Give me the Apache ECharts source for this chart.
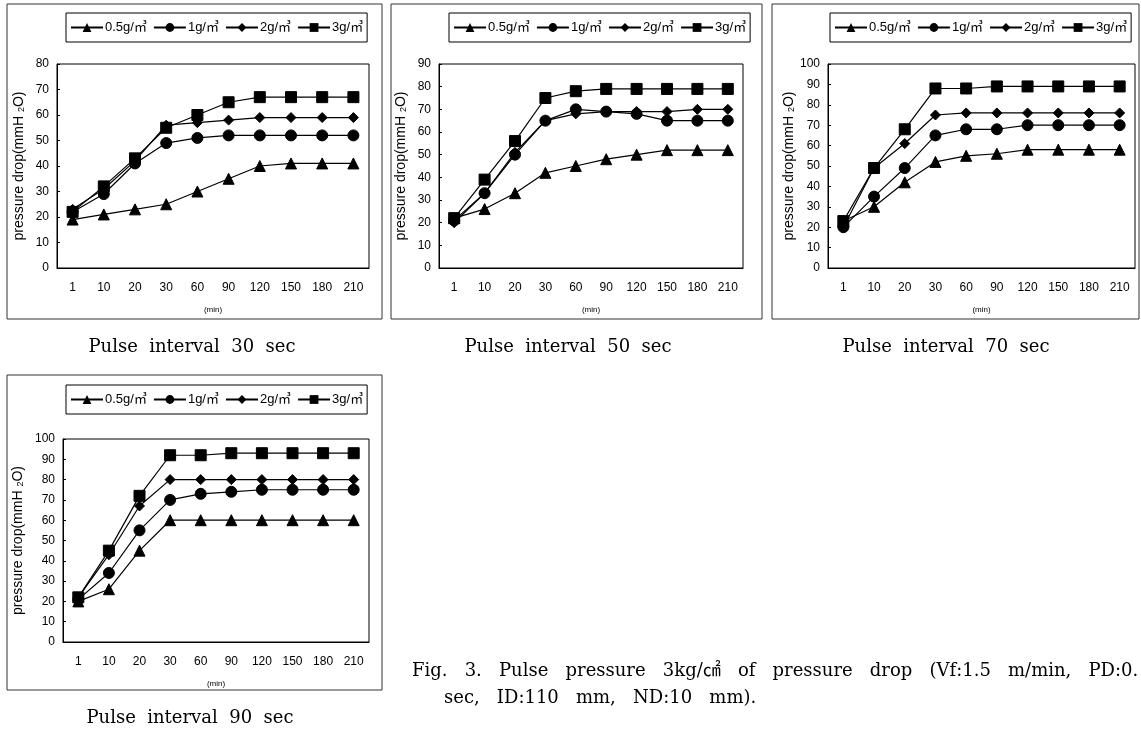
<!DOCTYPE html>
<html>
<head>
<meta charset="utf-8">
<script src="https://cdn.jsdelivr.net/npm/echarts@6/dist/echarts.min.js"></script>
<style>
html,body{margin:0;padding:0;background:#fff;}
#chart{width:1141px;height:731px;}
</style>
</head>
<body>
<div id="chart"></div>
<script>
// ---- data ----
const categories = ['1','10','20','30','60','90','120','150','180','210'];
const seriesNames = ['0.5g/㎥','1g/㎥','2g/㎥','3g/㎥'];
const panelTitles = ['Pulse interval 30 sec','Pulse interval 50 sec','Pulse interval 70 sec','Pulse interval 90 sec'];
const yMaxes = [80, 90, 100, 100];
const yTickStep = 10;

const p30_05 = [19,21,23,25,30,35,40,41,41,41];
const p30_1  = [22,29,41,49,51,52,52,52,52,52];
const p30_2  = [23,31,42,56,57,58,59,59,59,59];
const p30_3  = [22,32,43,55,60,65,67,67,67,67];

const p50_05 = [22,26,33,42,45,48,50,52,52,52];
const p50_1  = [21,33,50,65,70,69,68,65,65,65];
const p50_2  = [20,33,51,65,68,69,69,69,70,70];
const p50_3  = [22,39,56,75,78,79,79,79,79,79];

const p70_05 = [23,30,42,52,55,56,58,58,58,58];
const p70_1  = [20,35,49,65,68,68,70,70,70,70];
const p70_2  = [20,49,61,75,76,76,76,76,76,76];
const p70_3  = [23,49,68,88,88,89,89,89,89,89];

const p90_05 = [20,26,45,60,60,60,60,60,60,60];
const p90_1  = [21,34,55,70,73,74,75,75,75,75];
const p90_2  = [22,43,67,80,80,80,80,80,80,80];
const p90_3  = [22,45,72,92,92,93,93,93,93,93];

const panelData = [
  [p30_05, p30_1, p30_2, p30_3],
  [p50_05, p50_1, p50_2, p50_3],
  [p70_05, p70_1, p70_2, p70_3],
  [p90_05, p90_1, p90_2, p90_3]
];
const figCaption1 = 'Fig. 3. Pulse pressure 3kg/㎠ of pressure drop (Vf:1.5 m/min, PD:0.';
const figCaption2 = 'sec, ID:110 mm, ND:10 mm).';
const yAxisName = 'pressure drop(mmH {s|2}O)';
const xAxisName = '(min)';

// ---- layout (styles/positions) ----
const grids = [
  {left: 57,  top: 64,  width: 312, height: 204},
  {left: 439, top: 64,  width: 304, height: 204},
  {left: 828, top: 64,  width: 307, height: 204},
  {left: 63,  top: 439, width: 306, height: 203}
];
const frames = [
  {x: 7,   y: 4,   w: 375, h: 315},
  {x: 391, y: 4,   w: 371, h: 315},
  {x: 772, y: 4,   w: 367, h: 315},
  {x: 7,   y: 375, w: 375, h: 315}
];
const legendPos = [
  {left: 66,  top: 13},
  {left: 449, top: 13},
  {left: 830, top: 13},
  {left: 66,  top: 385}
];
const titlePos = [
  {x: 192, y: 347}, {x: 568, y: 347}, {x: 946, y: 347}, {x: 190, y: 718}
];
const symbols = ['triangle','circle','diamond','rect'];
const symbolSizes = [11, 11, 10, 11];
const sansFont = "'Liberation Sans','Noto Sans CJK KR',sans-serif";
const serifFont = "'DejaVu Serif','Liberation Serif','Noto Sans CJK KR',serif";
const wide = s => s.replace(/ /g, '   ');

const option = {
  animation: false,
  backgroundColor: '#fff',
  grid: grids.map(g => Object.assign({show: true, borderColor: '#000', borderWidth: 1, backgroundColor: 'transparent'}, g)),
  xAxis: grids.map((g, i) => ({
    type: 'category', gridIndex: i, data: categories, boundaryGap: true,
    axisLine: {lineStyle: {color: '#000', width: 1}},
    axisTick: {inside: true, length: 3, lineStyle: {color: '#000'}},
    axisLabel: {color: '#000', fontSize: 12, fontFamily: sansFont, margin: 14},
    name: xAxisName, nameLocation: 'middle', nameGap: 38,
    nameTextStyle: {color: '#000', fontSize: 8, fontFamily: sansFont}
  })),
  yAxis: grids.map((g, i) => ({
    type: 'value', gridIndex: i, min: 0, max: yMaxes[i], interval: yTickStep,
    splitLine: {show: false},
    axisLine: {show: true, lineStyle: {color: '#000', width: 1}},
    axisTick: {show: true, inside: true, length: 3, lineStyle: {color: '#000'}},
    axisLabel: {color: '#000', fontSize: 12, fontFamily: sansFont, margin: 8},
    name: yAxisName, nameLocation: 'middle', nameRotate: 90, nameGap: i === 3 ? 38 : 31,
    nameTextStyle: {color: '#000', fontSize: 14, fontFamily: sansFont,
      rich: {s: {fontSize: 9, color: '#000', fontFamily: sansFont, verticalAlign: 'bottom'}}}
  })),
  legend: legendPos.map(p => ({
    left: p.left, top: p.top, orient: 'horizontal',
    borderColor: '#000', borderWidth: 1, padding: [8, 4, 8, 4],
    itemGap: 6, itemWidth: 32, itemHeight: 11,
    textStyle: {color: '#000', fontSize: 13, fontFamily: sansFont, padding: [0, 0, 0, -3]},
    data: seriesNames, selectedMode: false
  })),
  series: [],
  graphic: []
};

panelData.forEach((pd, pi) => {
  pd.forEach((vals, si) => {
    option.series.push({
      type: 'line', name: seriesNames[si], xAxisIndex: pi, yAxisIndex: pi,
      data: vals, symbol: symbols[si], symbolSize: symbolSizes[si], showAllSymbol: true,
      lineStyle: {color: '#000', width: 1.2},
      itemStyle: {color: '#000', borderColor: '#000'},
      z: 2 + si
    });
  });
});

frames.forEach(f => {
  option.graphic.push({type: 'rect', silent: true, shape: {x: f.x, y: f.y, width: f.w, height: f.h},
    style: {fill: 'none', stroke: '#333', lineWidth: 1}});
});
panelTitles.forEach((t, i) => {
  option.graphic.push({type: 'text', silent: true, x: titlePos[i].x, y: titlePos[i].y,
    style: {text: t.replace(/ /g, '  '), font: "18px " + serifFont, fill: '#000', align: 'center', verticalAlign: 'middle'}});
});
option.graphic.push({type: 'text', silent: true, x: 412, y: 671,
  style: {text: wide(figCaption1), font: "18px " + serifFont, fill: '#000', align: 'left', verticalAlign: 'middle'}});
option.graphic.push({type: 'text', silent: true, x: 444, y: 698,
  style: {text: wide(figCaption2), font: "18px " + serifFont, fill: '#000', align: 'left', verticalAlign: 'middle'}});

const chart = echarts.init(document.getElementById('chart'), null, {renderer: 'canvas'});
chart.setOption(option);
</script>
</body>
</html>
